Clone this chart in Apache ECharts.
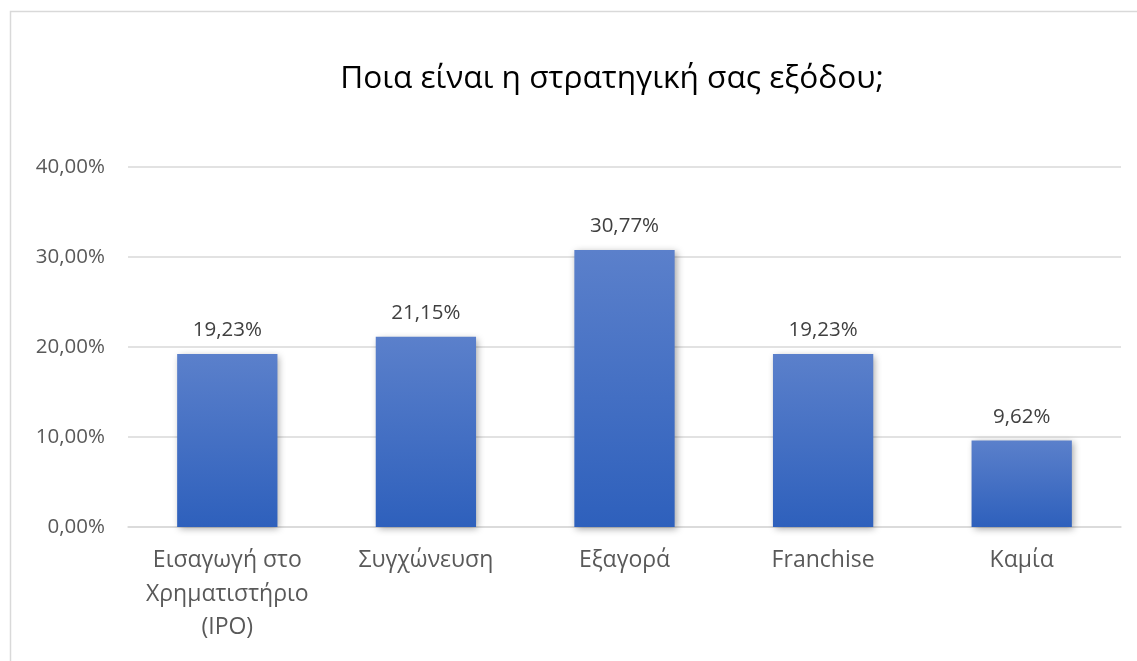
<!DOCTYPE html>
<html>
<head>
<meta charset="utf-8">
<script src="https://cdn.jsdelivr.net/npm/echarts@6/dist/echarts.min.js"></script>
<style>
  html, body { margin: 0; padding: 0; background: #fff; }
  #chart { width: 1137px; height: 661px; }
</style>
</head>
<body>
<div id="chart"></div>
<script>
// Exit strategy survey results (share of respondents, %)
const titleText = 'Ποια είναι η στρατηγική σας εξόδου;';
const categories = [
  'Εισαγωγή στο\nΧρηματιστήριο\n(IPO)',
  'Συγχώνευση',
  'Εξαγορά',
  'Franchise',
  'Καμία'
];
const shares = [19.23, 21.15, 30.77, 19.23, 9.62];
const axisTicks = [0, 10, 20, 30, 40];

const pct = v => v.toFixed(2).replace('.', ',') + '%';
const FONT = '"Open Sans", "Noto Sans", sans-serif';

const chart = echarts.init(document.getElementById('chart'), null, { renderer: 'canvas' });
chart.setOption({
  animation: false,
  backgroundColor: '#ffffff',
  title: {
    text: titleText,
    left: 607,
    textAlign: 'center',
    top: 58,
    textStyle: { fontFamily: FONT, fontSize: 31.6, fontWeight: 'normal', color: '#000000' }
  },
  graphic: [{
    type: 'rect',
    shape: { x: 10.5, y: 11.5, width: 1200, height: 700 },
    style: { fill: 'none', stroke: '#d9d9d9', lineWidth: 1.5 },
    silent: true
  }],
  grid: { left: 128, right: 16, top: 167, bottom: 134, containLabel: false },
  xAxis: {
    type: 'category',
    data: categories,
    axisLine: { show: true, lineStyle: { color: '#d9d9d9', width: 1.5 } },
    axisTick: { show: false },
    axisLabel: {
      fontFamily: FONT, fontSize: 23, color: '#595959',
      lineHeight: 33.5, margin: 17, interval: 0
    }
  },
  yAxis: {
    type: 'value',
    min: axisTicks[0],
    max: axisTicks[axisTicks.length - 1],
    interval: axisTicks[1] - axisTicks[0],
    axisLine: { show: false },
    axisTick: { show: false },
    splitLine: { lineStyle: { color: '#d9d9d9', width: 1.5 } },
    axisLabel: {
      fontFamily: FONT, fontSize: 20.5, color: '#595959', margin: 23,
      formatter: v => pct(v)
    }
  },
  series: [{
    type: 'bar',
    data: shares,
    barWidth: '50.5%',
    itemStyle: {
      color: new echarts.graphic.LinearGradient(0, 0, 0, 1, [
        { offset: 0, color: '#5b80cb' },
        { offset: 1, color: '#2e60bc' }
      ]),
      shadowColor: 'rgba(0,0,0,0.35)',
      shadowBlur: 7,
      shadowOffsetX: 2,
      shadowOffsetY: 2
    },
    label: {
      show: true,
      position: 'top',
      distance: 13,
      fontFamily: FONT, fontSize: 20.5, color: '#404040',
      formatter: p => pct(p.value)
    }
  }]
});
</script>
</body>
</html>
